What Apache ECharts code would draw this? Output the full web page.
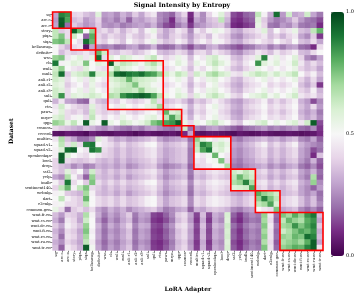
<!DOCTYPE html>
<html><head><meta charset="utf-8">
<script src="https://cdn.jsdelivr.net/npm/echarts@6/dist/echarts.min.js"></script>
<style>html,body{margin:0;padding:0;background:#fff}#c{width:357px;height:297px}</style>
</head><body><div id="c"></div>
<script>
const datasets = ['sq','arc-c','arc-e','story','piqa','siqa','hellaswag','definite','wsc','cb','wnli','mnli','anli-r1','anli-r2','anli-r3','snli','qnli','rte','paws','mrpc','qqp','cosmos','record','multirc','squad-v1','squad-v2','openbookqa','bool','drop','sst2','yelp','imdb','sentiment140','webnlg','dart','e2enlg','common-gen','wmt-fr-en','wmt-cs-en','wmt-de-en','wmt-fi-en','wmt-ro-en','wmt-ru-en','wmt-tr-en'];
const adapters = ['sq','arc-c','arc-e','story','piqa','siqa','hellaswag','definite','wsc','cb','wnli','mnli','anli-r1','anli-r2','anli-r3','snli','qnli','rte','paws','mrpc','qqp','cosmos','record','multirc','squad-v1','squad-v2','openbookqa','bool','drop','sst2','yelp','imdb','sentiment140','webnlg','dart','e2enlg','common-gen','wmt-fr-en','wmt-cs-en','wmt-de-en','wmt-fi-en','wmt-ro-en','wmt-ru-en','wmt-tr-en'];
// rows = datasets, columns = adapters
const signal = [
[0.30,0.88,0.85,0.40,0.42,0.36,0.33,0.58,0.28,0.30,0.25,0.33,0.28,0.38,0.30,0.40,0.45,0.25,0.22,0.18,0.32,0.40,0.10,0.36,0.25,0.40,0.50,0.58,0.38,0.15,0.12,0.18,0.20,0.65,0.48,0.32,0.92,0.28,0.62,0.30,0.33,0.62,0.30,0.22],
[0.28,0.95,0.82,0.35,0.38,0.28,0.32,0.40,0.25,0.28,0.22,0.30,0.18,0.30,0.28,0.33,0.36,0.25,0.20,0.10,0.28,0.33,0.08,0.30,0.25,0.35,0.38,0.65,0.33,0.12,0.10,0.15,0.18,0.58,0.38,0.28,0.22,0.25,0.30,0.38,0.28,0.22,0.20,0.15],
[0.30,0.96,0.20,0.38,0.33,0.27,0.30,0.38,0.27,0.25,0.28,0.22,0.25,0.28,0.30,0.27,0.33,0.22,0.15,0.12,0.22,0.28,0.12,0.25,0.28,0.33,0.36,0.38,0.28,0.10,0.08,0.12,0.15,0.55,0.40,0.22,0.20,0.28,0.25,0.33,0.22,0.20,0.22,0.10],
[0.65,0.38,0.42,0.95,0.78,0.50,0.72,0.38,0.42,0.35,0.42,0.33,0.40,0.45,0.35,0.48,0.55,0.38,0.30,0.36,0.45,0.40,0.25,0.45,0.38,0.48,0.55,0.52,0.42,0.33,0.30,0.38,0.40,0.45,0.58,0.36,0.50,0.40,0.45,0.55,0.36,0.33,0.65,0.78],
[0.65,0.75,0.42,0.62,0.50,0.18,0.80,0.40,0.35,0.42,0.38,0.35,0.45,0.38,0.35,0.42,0.48,0.35,0.30,0.38,0.42,0.36,0.28,0.38,0.42,0.35,0.48,0.42,0.38,0.28,0.25,0.33,0.36,0.40,0.45,0.35,0.40,0.33,0.40,0.45,0.30,0.25,0.38,0.12],
[0.75,0.78,0.65,0.50,0.42,0.92,0.78,0.42,0.38,0.48,0.42,0.36,0.50,0.42,0.38,0.48,0.55,0.42,0.35,0.38,0.48,0.42,0.30,0.42,0.48,0.40,0.52,0.48,0.40,0.33,0.30,0.38,0.42,0.48,0.42,0.38,0.50,0.42,0.38,0.50,0.36,0.33,0.42,0.30],
[0.50,0.40,0.33,0.42,0.45,0.05,0.30,0.25,0.22,0.25,0.20,0.22,0.28,0.30,0.22,0.25,0.33,0.20,0.18,0.20,0.28,0.22,0.15,0.25,0.22,0.30,0.33,0.25,0.22,0.18,0.15,0.20,0.22,0.28,0.30,0.22,0.28,0.22,0.28,0.30,0.20,0.18,0.10,0.42],
[0.50,0.35,0.42,0.38,0.40,0.45,0.38,0.78,0.62,0.38,0.36,0.42,0.40,0.35,0.38,0.45,0.50,0.36,0.33,0.36,0.42,0.38,0.28,0.40,0.42,0.35,0.45,0.40,0.36,0.28,0.25,0.33,0.36,0.45,0.40,0.35,0.45,0.38,0.42,0.48,0.35,0.33,0.42,0.50],
[0.72,0.75,0.45,0.52,0.58,0.45,0.55,0.92,0.42,0.58,0.50,0.62,0.58,0.52,0.48,0.58,0.65,0.48,0.40,0.45,0.55,0.48,0.35,0.50,0.45,0.58,0.62,0.52,0.48,0.36,0.33,0.42,0.45,0.58,0.88,0.48,0.55,0.45,0.50,0.58,0.40,0.25,0.20,0.30],
[0.90,0.48,0.52,0.58,0.55,0.75,0.50,0.58,0.55,0.95,0.58,0.65,0.62,0.58,0.52,0.62,0.68,0.58,0.45,0.50,0.58,0.52,0.38,0.55,0.50,0.58,0.65,0.58,0.52,0.40,0.36,0.45,0.50,0.85,0.58,0.52,0.58,0.48,0.52,0.62,0.45,0.35,0.42,0.35],
[0.62,0.72,0.50,0.45,0.42,0.58,0.50,0.45,0.42,0.55,0.68,0.58,0.55,0.50,0.45,0.55,0.60,0.48,0.40,0.45,0.50,0.45,0.35,0.48,0.42,0.50,0.58,0.50,0.45,0.36,0.33,0.40,0.45,0.55,0.50,0.45,0.50,0.45,0.50,0.55,0.40,0.35,0.38,0.30],
[0.65,0.92,0.38,0.58,0.62,0.65,0.88,0.60,0.58,0.68,0.92,0.95,0.90,0.88,0.92,0.85,0.82,0.72,0.62,0.55,0.65,0.60,0.40,0.62,0.55,0.65,0.70,0.62,0.58,0.45,0.42,0.55,0.60,0.65,0.62,0.55,0.62,0.55,0.60,0.65,0.50,0.40,0.48,0.35],
[0.62,0.58,0.42,0.50,0.55,0.45,0.58,0.50,0.45,0.58,0.62,0.65,0.78,0.65,0.62,0.60,0.58,0.52,0.45,0.50,0.55,0.48,0.36,0.50,0.45,0.55,0.58,0.50,0.45,0.36,0.33,0.42,0.45,0.50,0.55,0.45,0.50,0.45,0.50,0.55,0.40,0.33,0.42,0.30],
[0.58,0.55,0.38,0.45,0.50,0.42,0.55,0.45,0.40,0.55,0.58,0.62,0.65,0.75,0.60,0.58,0.52,0.48,0.40,0.45,0.50,0.45,0.33,0.45,0.40,0.50,0.55,0.45,0.40,0.33,0.30,0.38,0.42,0.45,0.50,0.40,0.45,0.40,0.45,0.50,0.36,0.30,0.38,0.12],
[0.62,0.58,0.42,0.50,0.55,0.45,0.58,0.50,0.45,0.58,0.62,0.65,0.65,0.62,0.72,0.60,0.58,0.52,0.45,0.50,0.55,0.48,0.36,0.50,0.45,0.55,0.58,0.50,0.45,0.36,0.33,0.42,0.45,0.50,0.55,0.45,0.50,0.45,0.50,0.55,0.40,0.36,0.48,0.33],
[0.62,0.85,0.42,0.58,0.55,0.58,0.62,0.58,0.52,0.68,0.65,0.85,0.90,0.92,0.95,0.92,0.82,0.65,0.55,0.50,0.60,0.55,0.40,0.58,0.52,0.60,0.65,0.58,0.52,0.42,0.38,0.50,0.55,0.58,0.62,0.52,0.58,0.50,0.55,0.62,0.45,0.40,0.45,0.36],
[0.33,0.45,0.30,0.28,0.20,0.18,0.45,0.36,0.33,0.42,0.38,0.48,0.42,0.38,0.42,0.48,0.65,0.42,0.35,0.38,0.42,0.36,0.28,0.38,0.35,0.42,0.48,0.42,0.36,0.30,0.28,0.35,0.38,0.42,0.48,0.36,0.42,0.36,0.42,0.48,0.33,0.28,0.15,0.25],
[0.45,0.62,0.48,0.42,0.38,0.36,0.58,0.42,0.38,0.50,0.45,0.55,0.50,0.45,0.50,0.55,0.58,0.70,0.40,0.45,0.50,0.45,0.33,0.45,0.40,0.50,0.55,0.45,0.40,0.33,0.30,0.38,0.42,0.45,0.50,0.40,0.45,0.40,0.45,0.50,0.36,0.30,0.42,0.28],
[0.48,0.58,0.42,0.38,0.42,0.35,0.62,0.42,0.38,0.42,0.38,0.48,0.42,0.38,0.42,0.48,0.50,0.42,0.78,0.58,0.62,0.40,0.30,0.42,0.38,0.48,0.52,0.42,0.38,0.30,0.28,0.36,0.38,0.42,0.48,0.38,0.42,0.36,0.42,0.48,0.33,0.28,0.33,0.22],
[0.58,0.62,0.42,0.48,0.52,0.42,0.65,0.48,0.42,0.50,0.45,0.55,0.50,0.45,0.50,0.55,0.58,0.48,0.65,0.82,0.68,0.45,0.33,0.48,0.42,0.50,0.55,0.45,0.42,0.33,0.30,0.38,0.42,0.45,0.50,0.42,0.45,0.40,0.45,0.50,0.36,0.30,0.35,0.25],
[0.72,0.68,0.55,0.65,0.52,0.95,0.55,0.50,0.95,0.55,0.50,0.62,0.58,0.52,0.55,0.62,0.75,0.80,0.82,0.85,0.95,0.55,0.40,0.55,0.50,0.60,0.65,0.55,0.50,0.40,0.36,0.50,0.52,0.58,0.62,0.50,0.55,0.50,0.55,0.60,0.45,0.62,0.95,0.15],
[0.42,0.38,0.36,0.33,0.30,0.36,0.33,0.28,0.25,0.30,0.25,0.22,0.20,0.25,0.22,0.28,0.30,0.25,0.22,0.20,0.25,0.62,0.20,0.25,0.22,0.28,0.30,0.25,0.22,0.18,0.15,0.20,0.22,0.25,0.28,0.22,0.25,0.22,0.25,0.28,0.20,0.18,0.25,0.12],
[0.05,0.04,0.07,0.06,0.05,0.03,0.08,0.06,0.05,0.04,0.06,0.06,0.05,0.03,0.05,0.07,0.05,0.04,0.05,0.06,0.04,0.10,0.30,0.05,0.04,0.06,0.06,0.05,0.04,0.03,0.06,0.05,0.04,0.05,0.07,0.05,0.04,0.05,0.06,0.05,0.04,0.05,0.06,0.10],
[0.45,0.68,0.36,0.30,0.20,0.20,0.25,0.58,0.45,0.36,0.30,0.33,0.28,0.30,0.33,0.36,0.40,0.30,0.25,0.28,0.30,0.33,0.20,0.72,0.58,0.50,0.45,0.55,0.48,0.25,0.22,0.28,0.30,0.33,0.36,0.30,0.33,0.28,0.33,0.36,0.25,0.22,0.30,0.18],
[0.50,0.65,0.42,0.62,0.42,0.88,0.90,0.50,0.45,0.42,0.36,0.42,0.35,0.38,0.42,0.48,0.50,0.38,0.33,0.36,0.38,0.42,0.25,0.65,0.88,0.82,0.58,0.62,0.55,0.30,0.28,0.33,0.36,0.42,0.48,0.36,0.42,0.36,0.42,0.48,0.33,0.28,0.25,0.22],
[0.48,0.58,0.92,0.95,0.50,0.45,0.90,0.85,0.42,0.38,0.33,0.38,0.33,0.36,0.38,0.42,0.45,0.36,0.30,0.33,0.36,0.38,0.22,0.62,0.82,0.90,0.55,0.60,0.52,0.28,0.25,0.30,0.33,0.38,0.42,0.33,0.38,0.33,0.38,0.42,0.30,0.25,0.15,0.20],
[0.48,0.95,0.58,0.50,0.45,0.42,0.50,0.45,0.40,0.38,0.33,0.38,0.33,0.36,0.38,0.42,0.45,0.36,0.30,0.33,0.36,0.38,0.22,0.50,0.45,0.52,0.78,0.50,0.45,0.28,0.25,0.30,0.33,0.38,0.42,0.33,0.38,0.33,0.38,0.42,0.30,0.25,0.10,0.36],
[0.40,0.95,0.42,0.38,0.36,0.38,0.42,0.36,0.33,0.36,0.30,0.36,0.30,0.33,0.36,0.38,0.42,0.33,0.28,0.33,0.36,0.38,0.22,0.45,0.42,0.50,0.52,0.75,0.42,0.25,0.22,0.28,0.30,0.36,0.38,0.30,0.36,0.30,0.36,0.38,0.28,0.22,0.33,0.18],
[0.40,0.36,0.33,0.25,0.30,0.22,0.25,0.33,0.30,0.33,0.28,0.33,0.25,0.28,0.33,0.36,0.38,0.28,0.22,0.25,0.28,0.33,0.18,0.40,0.42,0.45,0.50,0.52,0.68,0.22,0.20,0.25,0.28,0.30,0.33,0.25,0.30,0.25,0.30,0.33,0.22,0.18,0.25,0.15],
[0.42,0.36,0.58,0.42,0.50,0.30,0.62,0.38,0.33,0.38,0.33,0.38,0.33,0.36,0.38,0.42,0.45,0.36,0.28,0.33,0.36,0.38,0.22,0.38,0.36,0.42,0.45,0.42,0.38,0.62,0.58,0.65,0.60,0.38,0.42,0.33,0.38,0.33,0.38,0.42,0.30,0.25,0.33,0.20],
[0.30,0.25,0.68,0.48,0.36,0.18,0.72,0.36,0.33,0.36,0.30,0.36,0.28,0.33,0.36,0.38,0.42,0.33,0.25,0.30,0.33,0.36,0.20,0.36,0.33,0.38,0.42,0.38,0.36,0.65,0.78,0.68,0.62,0.36,0.38,0.30,0.36,0.30,0.36,0.38,0.28,0.22,0.68,0.18],
[0.48,0.38,0.90,0.42,0.50,0.38,0.75,0.42,0.36,0.42,0.36,0.42,0.36,0.38,0.42,0.48,0.50,0.38,0.30,0.36,0.38,0.42,0.25,0.42,0.38,0.45,0.48,0.45,0.42,0.68,0.72,0.88,0.68,0.42,0.45,0.36,0.42,0.36,0.42,0.45,0.33,0.28,0.72,0.25],
[0.40,0.65,0.78,0.48,0.65,0.75,0.42,0.38,0.33,0.38,0.33,0.38,0.33,0.36,0.38,0.42,0.45,0.36,0.28,0.33,0.36,0.38,0.22,0.38,0.36,0.42,0.45,0.42,0.38,0.58,0.60,0.62,0.82,0.38,0.42,0.33,0.38,0.33,0.38,0.42,0.30,0.25,0.18,0.28],
[0.48,0.52,0.38,0.36,0.33,0.70,0.48,0.36,0.33,0.36,0.30,0.36,0.28,0.33,0.36,0.38,0.42,0.33,0.25,0.30,0.33,0.36,0.20,0.36,0.33,0.38,0.42,0.38,0.36,0.30,0.28,0.33,0.36,0.80,0.72,0.68,0.62,0.33,0.36,0.38,0.30,0.25,0.30,0.20],
[0.50,0.65,0.48,0.42,0.38,0.78,0.50,0.42,0.38,0.42,0.36,0.42,0.36,0.38,0.42,0.48,0.50,0.38,0.30,0.36,0.38,0.42,0.25,0.42,0.38,0.45,0.48,0.45,0.42,0.36,0.33,0.38,0.42,0.72,0.88,0.75,0.65,0.38,0.42,0.45,0.36,0.28,0.36,0.22],
[0.48,0.52,0.42,0.42,0.38,0.65,0.50,0.42,0.38,0.42,0.36,0.42,0.36,0.38,0.42,0.48,0.50,0.38,0.30,0.36,0.38,0.42,0.25,0.42,0.38,0.45,0.48,0.45,0.42,0.36,0.33,0.38,0.42,0.65,0.70,0.82,0.60,0.38,0.42,0.45,0.36,0.28,0.36,0.25],
[0.55,0.42,0.20,0.38,0.42,0.36,0.42,0.30,0.25,0.33,0.28,0.33,0.25,0.30,0.33,0.36,0.38,0.30,0.22,0.25,0.30,0.33,0.18,0.33,0.30,0.36,0.38,0.36,0.33,0.25,0.22,0.28,0.30,0.50,0.45,0.42,0.75,0.30,0.33,0.36,0.25,0.20,0.25,0.18],
[0.35,0.28,0.40,0.38,0.32,0.68,0.48,0.32,0.22,0.30,0.25,0.32,0.38,0.22,0.30,0.28,0.14,0.12,0.18,0.25,0.38,0.42,0.30,0.14,0.35,0.15,0.32,0.28,0.60,0.18,0.12,0.20,0.25,0.22,0.72,0.45,0.20,0.75,0.70,0.80,0.72,0.85,0.90,0.35],
[0.32,0.22,0.45,0.40,0.30,0.62,0.50,0.28,0.18,0.28,0.22,0.30,0.35,0.20,0.28,0.25,0.12,0.10,0.15,0.22,0.35,0.40,0.28,0.12,0.32,0.12,0.30,0.25,0.58,0.15,0.10,0.18,0.22,0.20,0.70,0.42,0.18,0.65,0.78,0.72,0.68,0.80,0.85,0.30],
[0.38,0.30,0.48,0.42,0.35,0.72,0.50,0.33,0.22,0.32,0.26,0.33,0.40,0.24,0.32,0.30,0.15,0.13,0.20,0.27,0.40,0.44,0.32,0.15,0.36,0.16,0.34,0.30,0.62,0.20,0.14,0.22,0.27,0.24,0.74,0.46,0.22,0.70,0.72,0.85,0.75,0.82,0.88,0.38],
[0.33,0.25,0.42,0.38,0.30,0.75,0.47,0.30,0.20,0.28,0.24,0.30,0.36,0.21,0.29,0.26,0.13,0.11,0.17,0.24,0.36,0.41,0.29,0.13,0.33,0.14,0.31,0.27,0.60,0.17,0.11,0.19,0.24,0.21,0.70,0.43,0.19,0.62,0.68,0.75,0.82,0.78,0.85,0.32],
[0.36,0.20,0.44,0.40,0.32,0.70,0.49,0.31,0.21,0.30,0.25,0.31,0.37,0.22,0.30,0.27,0.14,0.12,0.18,0.25,0.37,0.42,0.30,0.14,0.34,0.15,0.32,0.28,0.61,0.18,0.12,0.20,0.25,0.22,0.73,0.44,0.20,0.72,0.70,0.78,0.75,0.92,0.88,0.35],
[0.32,0.26,0.40,0.36,0.30,0.65,0.46,0.28,0.19,0.27,0.22,0.29,0.34,0.20,0.27,0.24,0.12,0.10,0.15,0.22,0.34,0.39,0.27,0.12,0.31,0.12,0.29,0.25,0.58,0.15,0.10,0.17,0.22,0.19,0.68,0.41,0.17,0.68,0.72,0.75,0.70,0.80,0.95,0.30],
[0.35,0.18,0.46,0.40,0.33,0.95,0.52,0.30,0.21,0.29,0.24,0.31,0.37,0.22,0.30,0.26,0.13,0.11,0.17,0.24,0.36,0.41,0.29,0.13,0.33,0.14,0.31,0.27,0.60,0.17,0.11,0.19,0.24,0.21,0.75,0.44,0.19,0.72,0.75,0.80,0.78,0.88,0.95,0.45]
];
// task clusters (first and last index, same for rows and columns)
const clusterStart = [0, 3, 7, 9, 18, 21, 23, 29, 33, 37];
const clusterEnd   = [2, 6, 8, 17, 20, 22, 28, 32, 36, 43];
const colorbarMin = 0, colorbarMax = 1, colorbarStep = 0.5;
const prgn = ['#40004b','#762a83','#9970ab','#c2a5cf','#e7d4e8','#f7f7f7','#d9f0d3','#a6dba0','#5aae61','#1b7837','#00441b'];

const heat = [];
signal.forEach((row, y) => row.forEach((v, x) => heat.push([x, y, v])));
const boxes = clusterStart.map((s, i) => [s, clusterEnd[i]]);

const SERIF = 'DejaVu Serif';
const chart = echarts.init(document.getElementById('c'), null, {renderer: 'canvas'});
chart.setOption({
  animation: false,
  graphic: [{
    type: 'text', x: 182, y: 2,
    style: {text: 'Signal Intensity by Entropy', textAlign: 'center', fill: '#000',
            font: 'bold 6.3px "DejaVu Serif"'}
  }],
  grid: [
    {left: 41, top: 12, width: 282, height: 244},
    {left: 331, top: 12, width: 13, height: 244}
  ],
  xAxis: [{
    gridIndex: 0, type: 'category', data: adapters,
    name: 'LoRA Adapter', nameLocation: 'middle', nameGap: 33,
    nameTextStyle: {fontFamily: SERIF, fontWeight: 'bold', fontSize: 6, color: '#000'},
    axisLine: {show: false},
    axisTick: {show: true, alignWithLabel: true, length: 2, lineStyle: {color: '#000', width: 0.5}},
    axisLabel: {rotate: 90, interval: 0, fontSize: 3.7, fontFamily: SERIF, color: '#000', margin: 2},
    splitLine: {show: false}
  }, {
    gridIndex: 1, type: 'value', show: false, min: 0, max: 1
  }],
  yAxis: [{
    gridIndex: 0, type: 'category', data: datasets, inverse: true,
    name: 'Dataset', nameLocation: 'middle', nameGap: 33, nameRotate: 90,
    nameTextStyle: {fontFamily: SERIF, fontWeight: 'bold', fontSize: 6, color: '#000'},
    axisLine: {show: false},
    axisTick: {show: true, alignWithLabel: true, length: 2, lineStyle: {color: '#000', width: 0.5}},
    axisLabel: {interval: 0, fontSize: 3.7, fontFamily: SERIF, color: '#000', margin: 2},
    splitLine: {show: false}
  }, {
    gridIndex: 1, type: 'value', position: 'right',
    min: colorbarMin, max: colorbarMax, interval: colorbarStep,
    axisLine: {show: false},
    axisTick: {show: true, length: 2, lineStyle: {color: '#000', width: 0.5}},
    axisLabel: {fontSize: 5, fontFamily: SERIF, color: '#000', margin: 2,
                formatter: v => v.toFixed(1)},
    splitLine: {show: false}
  }],
  visualMap: {
    type: 'continuous', seriesIndex: 0, min: colorbarMin, max: colorbarMax,
    calculable: false, orient: 'vertical', left: 331, top: 12,
    itemWidth: 13, itemHeight: 244, padding: 0, hoverLink: false,
    inRange: {color: prgn}
  },
  series: [{
    type: 'heatmap', xAxisIndex: 0, yAxisIndex: 0, data: heat,
    progressive: 0, itemStyle: {borderWidth: 0}, emphasis: {disabled: true}
  }, {
    type: 'custom', xAxisIndex: 0, yAxisIndex: 0, data: boxes, z: 10, silent: true,
    clip: false,
    renderItem: function (params, api) {
      const s = api.value(0), e = api.value(1);
      const p0 = api.coord([s, s]), p1 = api.coord([e, e]);
      const sz = api.size([1, 1]);
      const x0 = Math.min(p0[0], p1[0]) - sz[0] / 2, x1 = Math.max(p0[0], p1[0]) + sz[0] / 2;
      const y0 = Math.min(p0[1], p1[1]) - sz[1] / 2, y1 = Math.max(p0[1], p1[1]) + sz[1] / 2;
      return {type: 'rect', shape: {x: x0, y: y0, width: x1 - x0, height: y1 - y0},
              style: {fill: 'none', stroke: '#ff0000', lineWidth: 1.6}};
    }
  }, {
    type: 'scatter', xAxisIndex: 1, yAxisIndex: 1, data: []
  }]
});
</script></body></html>
